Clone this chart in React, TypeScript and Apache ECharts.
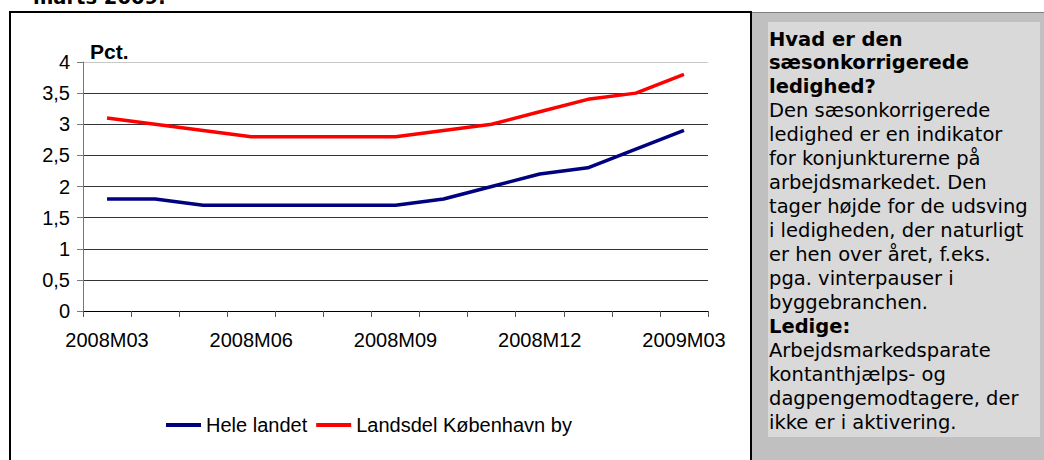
import React, { useEffect, useRef } from "react";
import * as echarts from "echarts";

const categories = [
  "2008M03", "2008M04", "2008M05", "2008M06", "2008M07", "2008M08", "2008M09",
  "2008M10", "2008M11", "2008M12", "2009M01", "2009M02", "2009M03",
];
const heleLandet = [1.8, 1.8, 1.7, 1.7, 1.7, 1.7, 1.7, 1.8, 2.0, 2.2, 2.3, 2.6, 2.9];
const koebenhavnBy = [3.1, 3.0, 2.9, 2.8, 2.8, 2.8, 2.8, 2.9, 3.0, 3.2, 3.4, 3.5, 3.8];
const seriesNames = ["Hele landet", "Landsdel København by"];
const yUnit = "Pct.";
const headerText = "marts 2009:";
const infoLines: [string, boolean][] = [
  ["Hvad er den", true],
  ["sæsonkorrigerede", true],
  ["ledighed?", true],
  ["Den sæsonkorrigerede", false],
  ["ledighed er en indikator", false],
  ["for konjunkturerne på", false],
  ["arbejdsmarkedet. Den", false],
  ["tager højde for de udsving", false],
  ["i ledigheden, der naturligt", false],
  ["er hen over året, f.eks.", false],
  ["pga. vinterpauser i", false],
  ["byggebranchen.", false],
  ["Ledige:", true],
  ["Arbejdsmarkedsparate", false],
  ["kontanthjælps- og", false],
  ["dagpengemodtagere, der", false],
  ["ikke er i aktivering.", false],
];

const chartFont = "'Liberation Sans', Arial, sans-serif";
const infoFont = "'DejaVu Sans', Verdana, sans-serif";

export default function App() {
  const ref = useRef<HTMLDivElement>(null);
  useEffect(() => {
    if (!ref.current) return;
    const chart = echarts.init(ref.current, undefined, { renderer: "svg" });
    const infoTexts = infoLines.map(([t, bold], i) => ({
      type: "text",
      x: 769,
      y: 39 + i * 23.94,
      style: {
        text: t,
        font: `${bold ? "bold " : ""}19.5px ${infoFont}`,
        fill: "#000",
        textVerticalAlign: "middle",
        textAlign: "left",
      },
      silent: true,
    }));
    chart.setOption({
      animation: false,
      backgroundColor: "#fff",
      textStyle: { fontFamily: chartFont },
      grid: { left: 83, right: 336, top: 62, bottom: 149, containLabel: false },
      legend: {
        left: 161,
        top: 410,
        icon: "rect",
        itemWidth: 35,
        itemHeight: 4,
        itemGap: 9,
        data: seriesNames,
        textStyle: { fontSize: 20, color: "#000", fontFamily: chartFont },
      },
      xAxis: {
        type: "category",
        data: categories,
        boundaryGap: true,
        axisLine: { lineStyle: { color: "#000", width: 1 } },
        axisTick: { show: true, interval: 0, length: 6, lineStyle: { color: "#555" } },
        axisLabel: {
          interval: 2,
          margin: 19,
          fontSize: 20,
          color: "#000",
          fontFamily: chartFont,
        },
        splitLine: { show: false },
      },
      yAxis: {
        type: "value",
        min: 0,
        max: 4,
        interval: 0.5,
        axisLine: { show: true, lineStyle: { color: "#777", width: 1 } },
        axisTick: { show: true, length: 6, lineStyle: { color: "#777" } },
        axisLabel: {
          margin: 13,
          fontSize: 20,
          color: "#000",
          fontFamily: chartFont,
          formatter: (v: number) => String(v).replace(".", ","),
        },
        splitLine: {
          show: true,
          lineStyle: {
            color: ["#333", "#333", "#333", "#333", "#333", "#333", "#333", "#333", "#c8c8c8"],
            width: 1,
          },
        },
      },
      series: [
        {
          name: seriesNames[0],
          type: "line",
          data: heleLandet,
          symbol: "none",
          showSymbol: false,
          lineStyle: { color: "#000080", width: 3.5 },
          itemStyle: { color: "#000080" },
        },
        {
          name: seriesNames[1],
          type: "line",
          data: koebenhavnBy,
          symbol: "none",
          showSymbol: false,
          lineStyle: { color: "#ff0000", width: 3.5 },
          itemStyle: { color: "#ff0000" },
        },
      ],
      graphic: [
        {
          type: "rect",
          shape: { x: 751, y: 12, width: 300, height: 460 },
          style: { fill: "#c0c0c0" },
          silent: true,
        },
        {
          type: "rect",
          shape: { x: 768, y: 22, width: 272, height: 415 },
          style: { fill: "#d9d9d9" },
          silent: true,
        },
        {
          type: "line",
          shape: { x1: 751, y1: 12.5, x2: 1044, y2: 12.5 },
          style: { stroke: "#808080", lineWidth: 1 },
          silent: true,
        },
        {
          type: "line",
          shape: { x1: 9, y1: 12, x2: 751, y2: 12 },
          style: { stroke: "#000", lineWidth: 2 },
          silent: true,
        },
        {
          type: "line",
          shape: { x1: 10, y1: 11, x2: 10, y2: 470 },
          style: { stroke: "#000", lineWidth: 2 },
          silent: true,
        },
        {
          type: "line",
          shape: { x1: 751, y1: 11, x2: 751, y2: 470 },
          style: { stroke: "#000", lineWidth: 2 },
          silent: true,
        },
        {
          type: "text",
          x: 33,
          y: -2.5,
          style: {
            text: headerText,
            font: `bold 19.5px ${infoFont}`,
            fill: "#000",
            textVerticalAlign: "middle",
          },
          silent: true,
        },
        {
          type: "text",
          x: 90,
          y: 51,
          style: {
            text: yUnit,
            font: `bold 21px ${chartFont}`,
            fill: "#000",
            textVerticalAlign: "middle",
          },
          silent: true,
        },
        ...infoTexts,
      ],
    });
    return () => chart.dispose();
  }, []);
  return (
    <div
      ref={ref}
      style={{ position: "fixed", left: 0, top: 0, width: 1044, height: 460 }}
    />
  );
}
